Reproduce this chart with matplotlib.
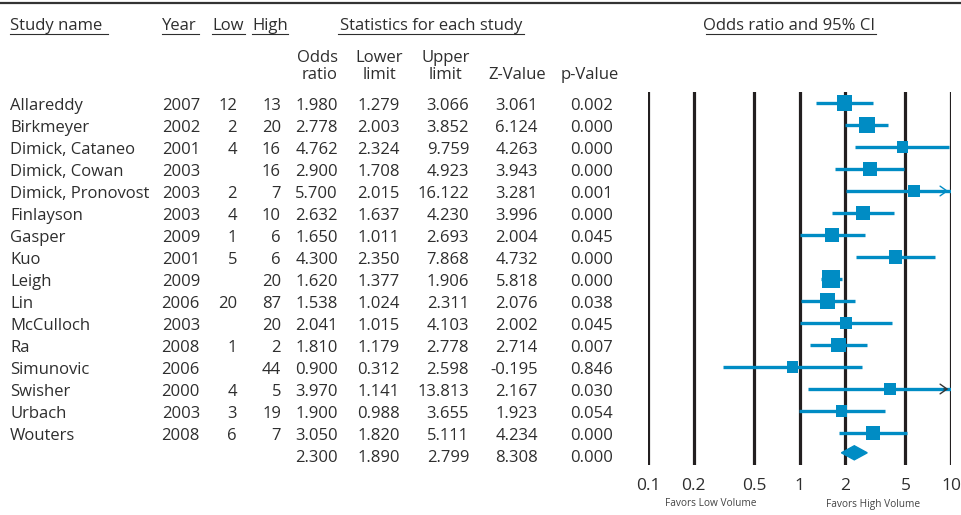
import numpy as np
import matplotlib
matplotlib.use("Agg")
import matplotlib.pyplot as plt
from matplotlib.patches import Polygon

plt.rcParams['font.family'] = ['Open Sans', 'DejaVu Sans']

studies = ["Allareddy", "Birkmeyer", "Dimick, Cataneo", "Dimick, Cowan", "Dimick, Pronovost",
           "Finlayson", "Gasper", "Kuo", "Leigh", "Lin", "McCulloch", "Ra", "Simunovic",
           "Swisher", "Urbach", "Wouters"]
years = [2007, 2002, 2001, 2003, 2003, 2003, 2009, 2001, 2009, 2006, 2003, 2008, 2006, 2000, 2003, 2008]
low = [12, 2, 4, None, 2, 4, 1, 5, None, 20, None, 1, None, 4, 3, 6]
high = [13, 20, 16, 16, 7, 10, 6, 6, 20, 87, 20, 2, 44, 5, 19, 7]
odds = [1.980, 2.778, 4.762, 2.900, 5.700, 2.632, 1.650, 4.300, 1.620, 1.538, 2.041, 1.810, 0.900, 3.970, 1.900, 3.050]
lower = [1.279, 2.003, 2.324, 1.708, 2.015, 1.637, 1.011, 2.350, 1.377, 1.024, 1.015, 1.179, 0.312, 1.141, 0.988, 1.820]
upper = [3.066, 3.852, 9.759, 4.923, 16.122, 4.230, 2.693, 7.868, 1.906, 2.311, 4.103, 2.778, 2.598, 13.813, 3.655, 5.111]
zval = [3.061, 6.124, 4.263, 3.943, 3.281, 3.996, 2.004, 4.732, 5.818, 2.076, 2.002, 2.714, -0.195, 2.167, 1.923, 4.234]
pval = [0.002, 0.000, 0.000, 0.000, 0.001, 0.000, 0.045, 0.000, 0.000, 0.038, 0.045, 0.007, 0.846, 0.030, 0.054, 0.000]
# relative weights (%)
weight = [7.6, 8.6, 4.1, 6.6, 4.1, 6.6, 6.6, 5.7, 10.9, 7.6, 4.9, 7.1, 4.1, 4.9, 4.1, 6.6]
summary = dict(odds=2.300, lower=1.890, upper=2.799, z=8.308, p=0.000)
ticks = [0.1, 0.2, 0.5, 1, 2, 5, 10]
tick_labels = ["0.1", "0.2", "0.5", "1", "2", "5", "10"]

W, H = 961, 515
blue = "#008CC4"
ink = "#231F20"
txt = "#2e2e2e"
fs = 12

fig = plt.figure(figsize=(W / 100, H / 100), dpi=100)

# text layer in pixel coordinates
tx = fig.add_axes([0, 0, 1, 1])
tx.set_xlim(0, W)
tx.set_ylim(H, 0)
tx.axis("off")

row0, step = 103, 22
dy = 2.5  # text sits a little lower than the marks
def row_y(i):
    return row0 + step * i

tx.plot([0, W], [3, 3], color="#333333", lw=1.6)

# header row with underlines
hdr_y = 26
for label, x0, x1, ha, xt in [("Study name", 10, 108, "left", 10),
                              ("Year", 162, 199, "left", 162),
                              ("Low", 212, 245, "left", 212),
                              ("High", 252, 288, "left", 252),
                              ("Statistics for each study", 338, 524, "center", 431),
                              ("Odds ratio and 95% CI", 706, 876, "center", 789)]:
    tx.text(xt, hdr_y, label, ha=ha, va="center", fontsize=fs, color=txt)
    tx.plot([x0, x1], [34, 34], color=txt, lw=0.8)

cols_r = {"or": 338, "lo": 400, "up": 469, "z": 538, "p": 613}
for label, x, y in [("Odds", 317, 58), ("ratio", 320, 75), ("Lower", 379, 58), ("limit", 379, 75),
                    ("Upper", 446, 58), ("limit", 446, 75), ("Z-Value", 517, 75), ("p-Value", 590, 75)]:
    tx.text(x, y, label, ha="center", va="center", fontsize=fs, color=txt)

for i, name in enumerate(studies):
    y = row_y(i) + dy
    tx.text(10, y, name, ha="left", va="center", fontsize=fs, color=txt)
    tx.text(200, y, str(years[i]), ha="right", va="center", fontsize=fs, color=txt)
    if low[i] is not None:
        tx.text(237, y, str(low[i]), ha="right", va="center", fontsize=fs, color=txt)
    tx.text(281, y, str(high[i]), ha="right", va="center", fontsize=fs, color=txt)
    for key, v in zip(["or", "lo", "up", "z", "p"], [odds[i], lower[i], upper[i], zval[i], pval[i]]):
        tx.text(cols_r[key], y, f"{v:.3f}", ha="right", va="center", fontsize=fs, color=txt)

ys = row_y(len(studies)) + dy
for key, k in [("odds", "or"), ("lower", "lo"), ("upper", "up"), ("z", "z"), ("p", "p")]:
    tx.text(cols_r[k], ys, f"{summary[key]:.3f}", ha="right", va="center", fontsize=fs, color=txt)

tx.text(711, 504, "Favors Low Volume", ha="center", va="center", fontsize=7.3, color="#444444")
tx.text(873, 504, "Favors High Volume", ha="center", va="center", fontsize=7.3, color="#444444")

# forest plot axes
x0p, x1p, ytop, ybot = 648, 951, 92, 465
ax = fig.add_axes([x0p / W, (H - ybot) / H, (x1p - x0p) / W, (ybot - ytop) / H])
ax.set_xscale("log")
ax.set_xlim(0.1, 10)
ax.set_ylim((ybot - row0) / step, (ytop - row0) / step)
ax.patch.set_alpha(0)
for s in ax.spines.values():
    s.set_visible(False)
ax.set_yticks([])
ax.set_xticks(ticks)
ax.set_xticklabels(tick_labels)
ax.minorticks_off()
ax.tick_params(axis="x", length=0, pad=9, labelsize=12.5, labelcolor=txt)
for t in ticks:
    ax.axvline(t, color=ink, lw=2.3, zorder=1)

yidx = np.arange(len(studies))
for i in yidx:
    hi = min(upper[i], 10)
    ax.plot([lower[i], hi], [i, i], color=blue, lw=2.4, solid_capstyle="butt", zorder=2)
    if upper[i] > 10:
        ax.annotate("", xy=(10, i), xytext=(8.6, i),
                    arrowprops=dict(arrowstyle="->,head_length=0.5,head_width=0.35",
                                    color=blue if i == 4 else "#333333", lw=1.0), zorder=3)
side = 18 * np.sqrt(np.array(weight) / max(weight))
ax.scatter(odds, yidx, s=(side * 0.72) ** 2, marker="s", color=blue, zorder=4, linewidths=0)

# summary diamond
n = len(studies)
hh = 0.32
dia = Polygon([(summary["lower"], n - 0.1), (summary["odds"], n - 0.1 - hh),
               (summary["upper"], n - 0.1), (summary["odds"], n - 0.1 + hh)],
              closed=True, color=blue, zorder=4)
ax.add_patch(dia)

fig.savefig("out.png", dpi=100)
